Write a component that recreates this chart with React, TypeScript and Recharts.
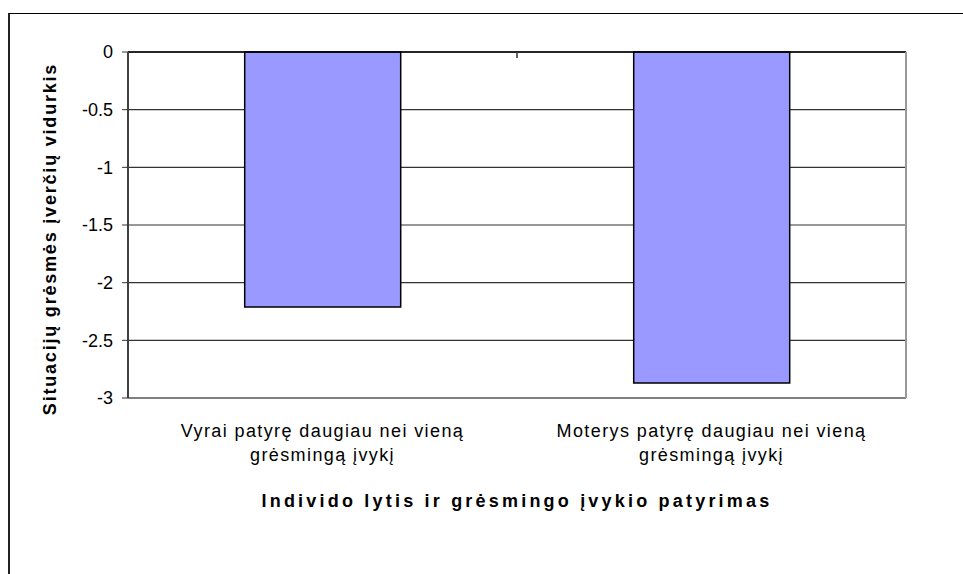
import React from 'react';
import { BarChart, Bar, XAxis, YAxis, CartesianGrid, ReferenceLine } from 'recharts';

// Category labels (two lines each, as in the original)
const categoryLines = [
  ['Vyrai patyrę daugiau nei vieną', 'grėsmingą įvykį'],
  ['Moterys patyrę daugiau nei vieną', 'grėsmingą įvykį'],
];

// Mean situation threat scores
const meanValues = [-2.21, -2.87];

const yTicks = [0, -0.5, -1, -1.5, -2, -2.5, -3];

const yTitle = 'Situacijų grėsmės įverčių vidurkis';
const xTitle = 'Individo lytis ir grėsmingo įvykio patyrimas';

const data = categoryLines.map((lines, i) => ({
  name: lines.join(' '),
  value: meanValues[i],
}));

const FONT = '"Liberation Sans", Arial, sans-serif';

const CategoryTick = ({ x, y, index }: any) => {
  const lines = categoryLines[index] || [];
  return (
    <text x={x} y={y} textAnchor="middle" fill="#000" fontSize={18} fontFamily={FONT} letterSpacing={1.4}>
      {lines.map((l, i) => (
        <tspan key={i} x={x} y={y + 39 + i * 24}>{l}</tspan>
      ))}
    </text>
  );
};

const XTitle = ({ viewBox }: any) => (
  <text
    x={viewBox.x + viewBox.width / 2}
    y={viewBox.y + 109}
    textAnchor="middle"
    fontWeight="bold"
    fontSize={18}
    fontFamily={FONT}
    letterSpacing={3.2}
    fill="#000"
  >
    {xTitle}
  </text>
);

const YTitle = ({ viewBox }: any) => {
  const cx = viewBox.x + 56;
  const cy = viewBox.y + viewBox.height / 2 + 14;
  return (
    <text
      x={cx}
      y={cy}
      transform={`rotate(-90 ${cx} ${cy})`}
      textAnchor="middle"
      fontWeight="bold"
      fontSize={18}
      fontFamily={FONT}
      letterSpacing={1.8}
      fill="#000"
    >
      {yTitle}
    </text>
  );
};

// small tick on the top (zero) axis between the two categories
const MidTick = ({ viewBox }: any) => {
  const mx = viewBox.x + viewBox.width / 2;
  return <line x1={mx} x2={mx} y1={viewBox.y} y2={viewBox.y + 6} stroke="#333" strokeWidth={1.5} />;
};

export default function App() {
  return (
    <div style={{ position: 'absolute', left: 0, top: 0, width: 963, height: 574, background: '#fff', overflow: 'hidden' }}>
      <div
        style={{
          position: 'absolute',
          left: 8,
          top: 13,
          right: 0,
          bottom: 0,
          borderLeft: '2px solid #222',
          borderTop: '1px solid #000',
        }}
      />
      <div style={{ position: 'absolute', left: 0, top: 0 }}>
        <BarChart
          width={963}
          height={574}
          data={data}
          margin={{ top: 52, right: 56, bottom: 0, left: 0 }}
          barCategoryGap="30%"
        >
          <CartesianGrid horizontal vertical={false} stroke="#333" strokeWidth={1.2} />
          <XAxis
            dataKey="name"
            height={176}
            tickSize={0}
            tickMargin={0}
            tickLine={false}
            axisLine={{ stroke: '#808080', strokeWidth: 2 }}
            tick={<CategoryTick />}
            interval={0}
            label={<XTitle />}
          />
          <YAxis
            width={128}
            domain={[-3, 0]}
            ticks={yTicks}
            interval={0}
            tickSize={6}
            tickMargin={9}
            axisLine={{ stroke: '#404040', strokeWidth: 2 }}
            tickLine={{ stroke: '#333' }}
            tick={{ fill: '#000', fontSize: 18, fontFamily: FONT }}
            label={<YTitle />}
          />
          <YAxis
            yAxisId="r"
            orientation="right"
            width={1}
            domain={[-3, 0]}
            tick={false}
            tickLine={false}
            axisLine={{ stroke: '#999', strokeWidth: 2 }}
          />
          <ReferenceLine y={0} stroke="#000" strokeWidth={1.5} label={<MidTick />} />
          <Bar dataKey="value" fill="#9999FF" stroke="#000" strokeWidth={1.5} isAnimationActive={false} />
        </BarChart>
      </div>
    </div>
  );
}
